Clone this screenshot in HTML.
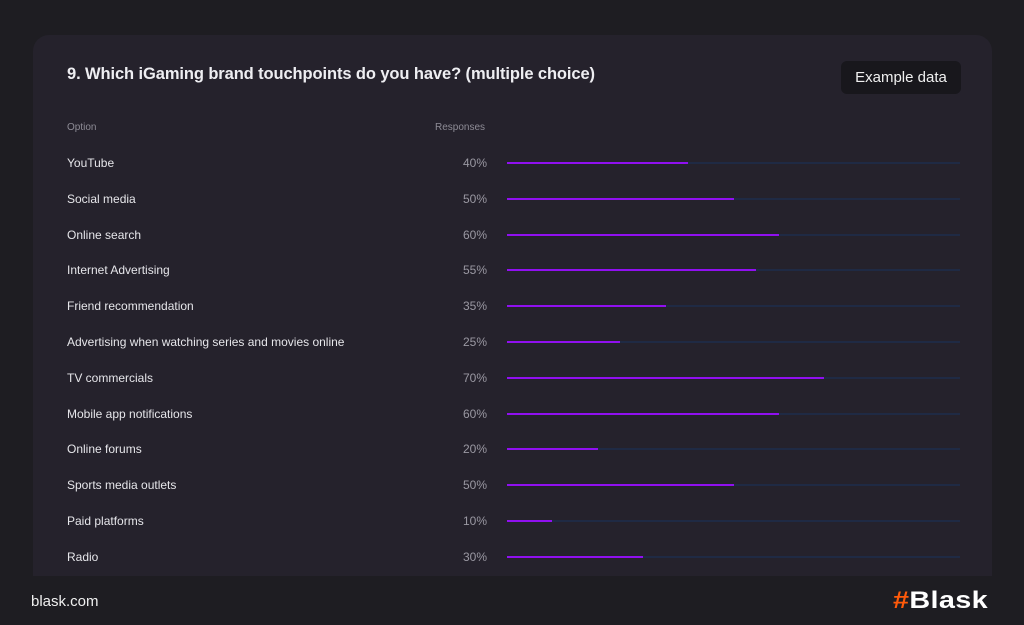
<!DOCTYPE html>
<html><head><style>
body{margin:0;width:1024px;height:625px;background:#1e1d22;font-family:"Liberation Sans",sans-serif;position:relative;overflow:hidden}
.card{position:absolute;left:33px;top:35px;width:959px;height:541px;background:#25222c;border-radius:16px 16px 0 0}
.t{position:absolute;left:67px;top:65px;color:#eeeef2;font-size:16.5px;font-weight:bold;letter-spacing:-0.1px}
.btn{position:absolute;left:841px;top:61px;width:120px;height:33px;background:#18171c;border-radius:6px;color:#f0f0f0;font-size:15px;line-height:33px;text-align:center}
.h{position:absolute;top:122px;color:#8e8c96;font-size:10px}
.l{position:absolute;left:67px;color:#e6e6ea;font-size:12px}
.p{position:absolute;right:537px;color:#9a98a2;font-size:12px}
.tr{position:absolute;left:507px;width:453px;height:2px;background:#1f2a44}
.b{position:absolute;left:0;top:0;height:2px;background:#9010f0}
.f{position:absolute;left:31px;top:593px;color:#f0f0f0;font-size:15px}
.logo{position:absolute;left:893px;top:587px;font-size:24px;font-weight:bold;color:#fff;letter-spacing:0.3px;transform:scaleX(1.2);transform-origin:0 0}
</style></head><body>
<div class="card"></div>
<div class="t">9. Which iGaming brand touchpoints do you have? (multiple choice)</div>
<div class="btn">Example data</div>
<div class="h" style="left:67px">Option</div>
<div class="h" style="left:435px">Responses</div>
<div id="rows"></div>
<div class="f">blask.com</div>
<div class="logo"><span style="color:#ff5a0a">#</span>Blask</div>
<script>
const d=[["YouTube",40],["Social media",50],["Online search",60],["Internet Advertising",55],["Friend recommendation",35],["Advertising when watching series and movies online",25],["TV commercials",70],["Mobile app notifications",60],["Online forums",20],["Sports media outlets",50],["Paid platforms",10],["Radio",30]];
let h="";d.forEach((r,i)=>{const y=162+i*35.8;
h+=`<div class="l" style="top:${y-6}px">${r[0]}</div><div class="p" style="top:${y-6}px">${r[1]}%</div><div class="tr" style="top:${y}px"><div class="b" style="width:${r[1]/100*453}px"></div></div>`;});
document.getElementById("rows").innerHTML=h;
</script>
</body></html>
